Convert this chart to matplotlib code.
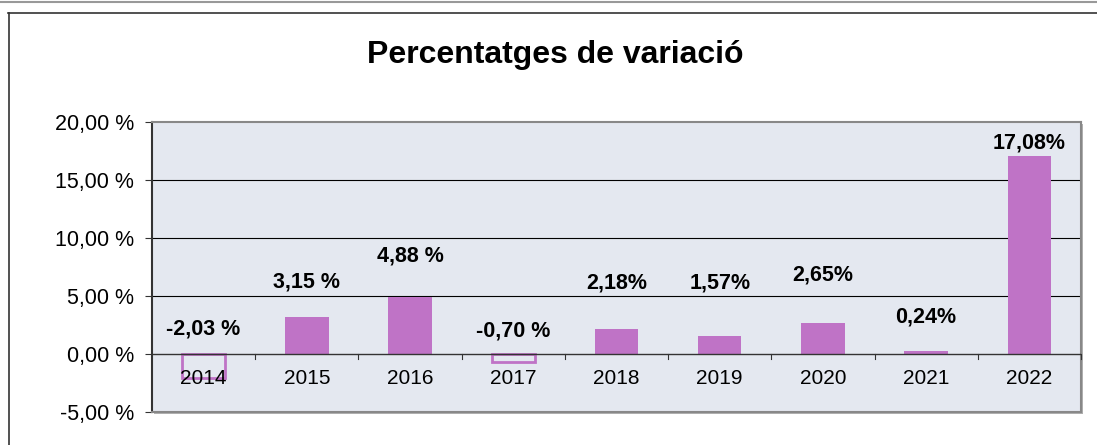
import matplotlib.pyplot as plt
from matplotlib.patches import Rectangle
from matplotlib.lines import Line2D

plt.rcParams['font.family'] = ['Liberation Sans', 'DejaVu Sans']

years = ['2014', '2015', '2016', '2017', '2018', '2019', '2020', '2021', '2022']
values = [-2.03, 3.15, 4.88, -0.70, 2.18, 1.57, 2.65, 0.24, 17.08]
labels = ['-2,03 %', '3,15 %', '4,88 %', '-0,70 %', '2,18%', '1,57%', '2,65%', '0,24%', '17,08%']
# label heights as placed by hand in the original
label_y = [2.16, 6.2, 8.45, 1.98, 6.1, 6.1, 6.8, 3.2, 18.2]
yticks = [-5, 0, 5, 10, 15, 20]

bar_color = '#BF73C6'
bg_color = '#E4E8F0'

W, H = 1097, 445
fig = plt.figure(figsize=(W / 100, H / 100), dpi=100)

# outer chart frame
fig.add_artist(Line2D([0, 1], [1 - 1.5 / H, 1 - 1.5 / H], color='#999999', lw=1.5))
fig.add_artist(Line2D([8 / W, 1], [1 - 12.5 / H, 1 - 12.5 / H], color='#333333', lw=1.2))
fig.add_artist(Line2D([8.5 / W, 8.5 / W], [0, 1 - 12.5 / H], color='#333333', lw=1.2))

left, right, top, bottom = 152, 1081, 122, 412
ax = fig.add_axes([left / W, 1 - bottom / H, (right - left) / W, (bottom - top) / H])

# shadow of plot area
fig.add_artist(Rectangle(((left + 2) / W, 1 - (bottom + 2) / H), (right - left) / W,
                         (bottom - top) / H, transform=fig.transFigure,
                         facecolor='#b0b0b0', edgecolor='none', zorder=0))

ax.set_facecolor(bg_color)
ax.set_xlim(-0.5, len(years) - 0.5)
ax.set_ylim(-5, 20)

for y in [5, 10, 15]:
    ax.axhline(y, color='black', lw=0.8, zorder=1)
ax.axhline(0, color='#333333', lw=1.0, zorder=3)

for i, v in enumerate(values):
    if v >= 0:
        ax.bar(i, v, width=0.42, color=bar_color, zorder=2)
    else:
        ax.bar(i, v, width=0.42, facecolor='none', edgecolor=bar_color, lw=2, zorder=2)
    ax.text(i, label_y[i], labels[i], ha='center', va='center',
            fontsize=15.5, fontweight='bold', zorder=4)
    ax.text(i, -2.1, years[i], ha='center', va='center', fontsize=15, zorder=4)

# category boundary ticks on zero line
for b in range(1, len(years) + 1):
    ax.plot([b - 0.5, b - 0.5], [0, -0.45], color='#333333', lw=0.8, zorder=3,
            clip_on=False)

ax.set_xticks([])
ax.set_yticks(yticks)
ax.set_yticklabels([f'{t},00 %' for t in yticks], fontsize=15.5)
ax.tick_params(axis='y', length=5, width=0.8, color='#333333', pad=8)

for s in ['top', 'right', 'bottom']:
    ax.spines[s].set_color('#888888')
    ax.spines[s].set_linewidth(1.5)
ax.spines['left'].set_color('#333333')
ax.spines['left'].set_linewidth(1.5)

fig.text(555 / W, 1 - 55 / H, 'Percentatges de variació', ha='center', va='center',
         fontsize=23, fontweight='bold')

fig.savefig('out.png', dpi=100)
